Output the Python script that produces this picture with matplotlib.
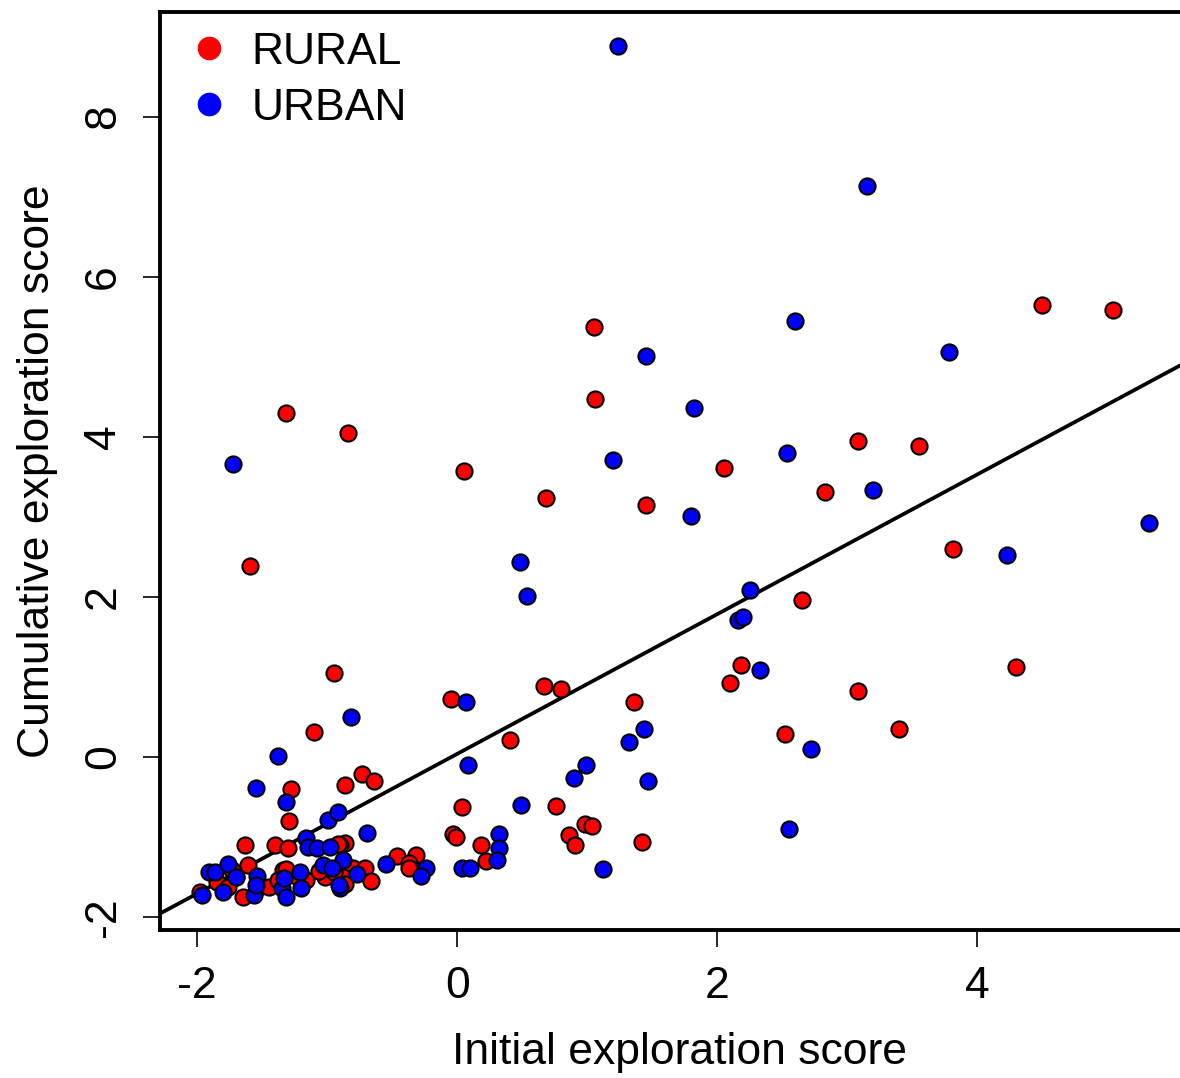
import numpy as np
import matplotlib
matplotlib.use('Agg')
from matplotlib import pyplot as plt
from matplotlib.lines import Line2D

plt.rcParams['font.family'] = ['Liberation Sans', 'DejaVu Sans']
plt.rcParams['axes.unicode_minus'] = False

# initial vs cumulative exploration scores per individual
rural_x = [4.50, 5.04, 1.05, 1.06, -1.32, -0.84, 3.08, 3.55, 2.05, 0.05,
           0.68, 1.45, 2.83, 3.81, -1.59, 2.65, 2.18, 4.30, 2.10, -0.95,
           0.67, 0.80, 1.36, -0.05, 3.08, 3.40, 2.52, -1.10, 0.41, -0.73,
           -0.64, -0.86, -1.28, 0.76, 0.04, -1.29, 0.98, 1.04, 0.86, 0.91,
           1.42, -0.03, -0.01, 0.18, 0.22, -0.46, -0.32, -0.37, -0.37, -0.86,
           -0.90, -0.80, -0.71, -0.66, -0.88, -0.86, -1.63, -1.40, -1.30, -0.92,
           -1.61, -1.85, -1.73, -1.70, -1.76, -1.98, -1.65, -1.52, -1.45, -1.34,
           -1.16, -1.02, -0.95, -1.24, -1.38, -1.32, -1.06]
rural_y = [5.65, 5.59, 5.38, 4.48, 4.30, 4.05, 3.95, 3.89, 3.61, 3.58,
           3.24, 3.15, 3.31, 2.60, 2.39, 1.96, 1.15, 1.12, 0.93, 1.05,
           0.89, 0.85, 0.69, 0.73, 0.83, 0.35, 0.29, 0.31, 0.22, -0.21,
           -0.30, -0.35, -0.40, -0.61, -0.62, -0.80, -0.83, -0.86, -0.97, -1.10,
           -1.06, -0.96, -1.00, -1.10, -1.30, -1.24, -1.22, -1.32, -1.38, -1.07,
           -1.10, -1.39, -1.39, -1.55, -1.50, -1.59, -1.10, -1.10, -1.14, -1.09,
           -1.35, -1.56, -1.41, -1.50, -1.62, -1.69, -1.75, -1.62, -1.62, -1.41,
           -1.54, -1.50, -1.43, -1.48, -1.53, -1.40, -1.42]

urban_x = [1.24, 3.15, 2.60, 3.78, 1.45, 1.82, -1.72, 1.20, 2.54, 3.20,
           1.80, 5.32, 4.23, 0.48, 0.54, 2.25, 2.16, 2.20, 2.33, -0.82,
           0.07, 1.44, -1.38, 1.32, 2.72, 0.08, 0.99, 0.90, 1.47, -1.55,
           0.49, -1.32, -0.99, -0.92, 2.55, 0.32, 0.32, 0.31, 0.04, 0.10,
           1.12, -0.69, -0.55, -0.24, -0.28, -0.88, -0.77, -0.90, -1.16, -1.15,
           -1.08, -0.98, -1.91, -1.86, -1.76, -1.54, -1.80, -1.96, -1.56, -1.55,
           -1.35, -1.32, -1.03, -0.96, -1.21, -0.91, -1.70, -1.20, -1.33]
urban_y = [8.88, 7.13, 5.45, 5.06, 5.01, 4.36, 3.66, 3.71, 3.80, 3.34,
           3.01, 2.93, 2.53, 2.44, 2.01, 2.09, 1.71, 1.75, 1.09, 0.50,
           0.69, 0.35, 0.01, 0.19, 0.10, -0.10, -0.10, -0.26, -0.30, -0.38,
           -0.60, -0.56, -0.78, -0.69, -0.90, -0.96, -1.14, -1.28, -1.39, -1.39,
           -1.40, -0.95, -1.34, -1.38, -1.48, -1.28, -1.46, -1.63, -1.01, -1.12,
           -1.13, -1.12, -1.44, -1.44, -1.33, -1.48, -1.69, -1.72, -1.72, -1.60,
           -1.64, -1.75, -1.35, -1.38, -1.44, -1.60, -1.50, -1.64, -1.51]

# fitted relationship drawn over the points
fit_intercept = 0.04
fit_slope = 0.873

fig = plt.figure(figsize=(11.8, 10.78), dpi=100)
ax = fig.add_axes([0.1356, 0.1373, 0.88, 0.8516])

ax.scatter(rural_x, rural_y, s=135, c='#ff0000', edgecolors='black',
           linewidths=1.5, zorder=3)
ax.scatter(urban_x, urban_y, s=135, c='#0000ff', edgecolors='black',
           linewidths=1.5, zorder=3)

xs = np.array([-2.4, 6.0])
ax.plot(xs, fit_intercept + fit_slope * xs, color='black', lw=2.7, zorder=2)

ax.set_xlim(-2.285, 5.7)
ax.set_ylim(-2.16, 9.31)
ax.set_xticks([-2, 0, 2, 4])
ax.set_yticks([-2, 0, 2, 4, 6, 8])
ax.tick_params(axis='both', length=12, width=1.2, labelsize=32, pad=14)
plt.setp(ax.get_yticklabels(), rotation=90, va='center')
for sp in ax.spines.values():
    sp.set_linewidth(2.8)

ax.set_xlabel('Initial exploration score', fontsize=32, labelpad=18)
ax.set_ylabel('Cumulative exploration score', fontsize=32, labelpad=18)

handles = [Line2D([], [], marker='o', ls='', color='#ff0000', markersize=16),
           Line2D([], [], marker='o', ls='', color='#0000ff', markersize=16)]
ax.legend(handles, ['RURAL', 'URBAN'], loc='upper left', frameon=False,
          fontsize=32, handlelength=1.0, handletextpad=0.45,
          borderaxespad=0.0, labelspacing=0.34, bbox_to_anchor=(0.009, 0.998))

fig.savefig('out.png', dpi=100)
